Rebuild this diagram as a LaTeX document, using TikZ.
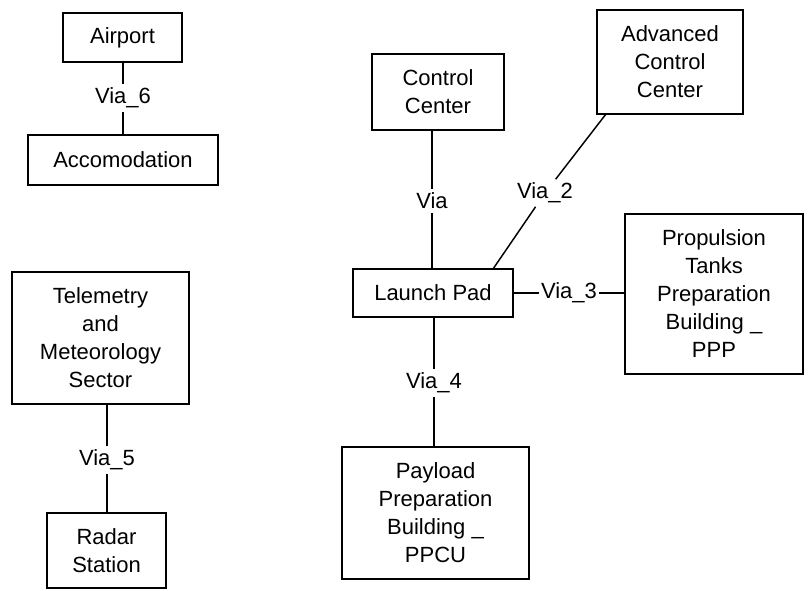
\documentclass[tikz,border=0pt]{standalone}
\usepackage{fontspec}
\setmainfont{Liberation Sans}
\begin{document}
\begin{tikzpicture}[x=0.75pt,y=-0.75pt,
  box/.style={draw, line width=1.1pt, align=center, inner sep=0pt, font=\fontsize{16.5}{21}\selectfont},
  lbl/.style={inner xsep=1pt, inner ysep=2.5pt, font=\fontsize{16.5}{20}\selectfont},
  conn/.style={line width=1.1pt}]
\useasboundingbox (0,0) rectangle (808,590);
\node[box, minimum width=89.25pt, minimum height=36.75pt] (airport) at (122.5,37.5) {Airport};
\node[box, minimum width=142.5pt, minimum height=37.5pt] (accom) at (123,160) {Accomodation};
\node[box, minimum width=99pt, minimum height=57pt] (cc) at (438,92) {Control\\Center};
\node[box, minimum width=109.5pt, minimum height=78pt] (acc) at (670,62) {Advanced\\Control\\Center};
\node[box, minimum width=120pt, minimum height=36pt] (lp) at (433,293) {Launch Pad};
\node[box, minimum width=133.5pt, minimum height=120pt] (ptp) at (714,294) {Propulsion\\Tanks\\Preparation\\Building \_\\PPP};
\node[box, minimum width=140.25pt, minimum height=99pt] (payload) at (435.5,513) {Payload\\Preparation\\Building \_\\PPCU};
\node[box, minimum width=132.75pt, minimum height=99pt] (tel) at (100.5,338) {Telemetry\\and\\Meteorology\\Sector};
\node[box, minimum width=89.25pt, minimum height=56.25pt] (radar) at (106.5,550.5) {Radar\\Station};

\node[lbl] (via6) at (123,98) {Via\_6};
\node[lbl] (via1) at (432,201) {Via};
\node[lbl] (via2) at (545,193) {Via\_2};
\node[lbl] (via3) at (569,293) {Via\_3};
\node[lbl] (via4) at (434,383) {Via\_4};
\node[lbl] (via5) at (107,460) {Via\_5};

\coordinate (d1) at (493,269);
\coordinate (d2) at (606,114);

\draw[conn] (via6 |- airport.south) -- (via6) -- (via6 |- accom.north);
\draw[conn] (via1 |- cc.south) -- (via1) -- (via1 |- lp.north);
\draw[conn] (d1) -- (via2) -- (d2);
\draw[conn] (via3 -| lp.east) -- (via3) -- (via3 -| ptp.west);
\draw[conn] (via4 |- lp.south) -- (via4) -- (via4 |- payload.north);
\draw[conn] (via5 |- tel.south) -- (via5) -- (via5 |- radar.north);
\end{tikzpicture}
\end{document}
